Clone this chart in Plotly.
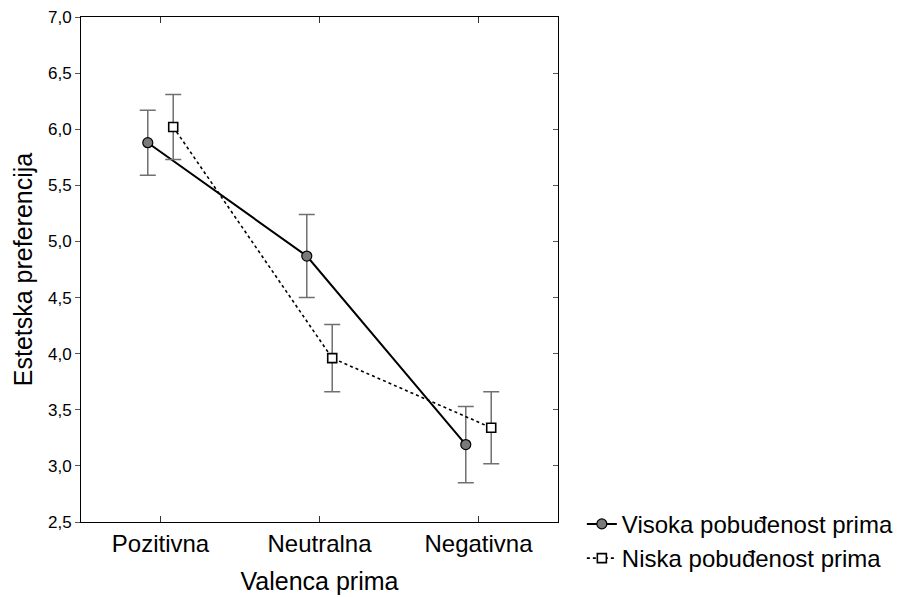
import plotly.graph_objects as go

# Data
categories = ['Pozitivna', 'Neutralna', 'Negativna']
visoka_mean = [5.88, 4.87, 3.19]
visoka_err = [0.29, 0.37, 0.34]
niska_mean = [6.02, 3.96, 3.34]
niska_err = [0.29, 0.30, 0.32]
y_ticks = [2.5, 3.0, 3.5, 4.0, 4.5, 5.0, 5.5, 6.0, 6.5, 7.0]

FONT = 'Liberation Sans, Arial, sans-serif'
ERR_COLOR = '#707070'
shift = 0.08  # horizontal dodge of the two series

pos = list(range(len(categories)))

fig = go.Figure()

fig.add_trace(go.Scatter(
    x=[p - shift for p in pos],
    y=visoka_mean,
    mode='lines+markers',
    name='Visoka pobuđenost prima',
    line=dict(color='black', width=2),
    marker=dict(symbol='circle', size=10, color='#7a7a7a',
                line=dict(color='black', width=1.2)),
    error_y=dict(type='data', array=visoka_err, visible=True,
                 color=ERR_COLOR, thickness=1.5, width=8),
))

fig.add_trace(go.Scatter(
    x=[p + shift for p in pos],
    y=niska_mean,
    mode='lines+markers',
    name='Niska pobuđenost prima',
    line=dict(color='black', width=1.6, dash='dot'),
    marker=dict(symbol='square', size=9, color='white',
                line=dict(color='black', width=1.6)),
    error_y=dict(type='data', array=niska_err, visible=True,
                 color=ERR_COLOR, thickness=1.5, width=8),
))

# invisible helper so the right-hand tick axis gets drawn
fig.add_trace(go.Scatter(
    x=[p - shift for p in pos], y=visoka_mean, yaxis='y2',
    mode='markers', marker=dict(opacity=0),
    showlegend=False, hoverinfo='skip',
))

# page body adds an 8px margin, so the figure is 8px smaller each way
fig.update_layout(
    width=900, height=589,
    margin=dict(l=73, r=350, t=9, b=75, autoexpand=False),
    paper_bgcolor='white',
    plot_bgcolor='white',
    separators=', ',
    font=dict(family=FONT, size=24, color='black'),
    showlegend=True,
    legend=dict(
        x=1.05, xanchor='left', y=0.04, yanchor='top',
        font=dict(size=24), tracegroupgap=0,
        bgcolor='rgba(0,0,0,0)', itemwidth=30,
    ),
    xaxis=dict(
        range=[-0.5, 2.5], automargin=False,
        tickmode='array', tickvals=pos, ticktext=categories,
        ticks='inside', ticklen=6, tickcolor='#333',
        showline=True, linecolor='black', linewidth=1, mirror='ticks',
        showgrid=False, zeroline=False,
        tickfont=dict(size=24),
        title=dict(text='Valenca prima', font=dict(size=25), standoff=16),
    ),
    yaxis=dict(
        range=[2.5, 7.0], automargin=False,
        tickmode='array', tickvals=y_ticks,
        tickformat='.1f', ticklabeloverflow='allow',
        ticks='outside', ticklen=5, tickcolor='#555',
        showline=True, linecolor='black', linewidth=1, mirror=True,
        showgrid=False, zeroline=False,
        tickfont=dict(size=17),
        title=dict(text='Estetska preferencija', font=dict(size=25), standoff=8),
    ),
    yaxis2=dict(
        range=[2.5, 7.0], overlaying='y', side='right', automargin=False,
        tickmode='array', tickvals=y_ticks,
        ticks='inside', ticklen=5, tickcolor='#555',
        showticklabels=False, showgrid=False, zeroline=False, showline=False,
    ),
)

fig.write_html('out.html')
